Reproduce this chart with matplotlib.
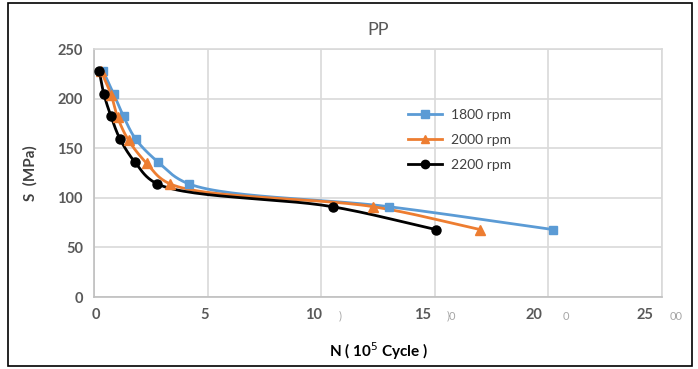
import numpy as np
import matplotlib.pyplot as plt
import matplotlib.transforms as mtransforms
from matplotlib.lines import Line2D
from matplotlib.patches import Rectangle

# data (N in 10^5 cycles, S in MPa)
n_1800 = [0.4, 0.86, 1.3, 1.84, 2.82, 4.18, 13.0, 20.2]
s_1800 = [228, 205, 182, 159, 136, 114, 91, 68]
n_2000 = [0.3, 0.75, 1.04, 1.52, 2.31, 3.35, 12.3, 17.0]
s_2000 = [228, 204, 181, 158, 135, 114, 91, 68]
n_2200 = [0.23, 0.43, 0.75, 1.15, 1.8, 2.79, 10.5, 15.05]
s_2200 = [228, 205, 182, 159, 136, 114, 91, 68]
labels = ["1800 rpm", "2000 rpm", "2200 rpm"]
colors = ["#5B9BD5", "#ED7D31", "#000000"]
markers = ["s", "^", "o"]

plt.rcParams['font.family'] = ['Lato', 'DejaVu Sans']


def smooth(x, y, ax, steps=30, alpha=0.5):
    # centripetal Catmull-Rom through the points, in display units
    pts = ax.transData.transform(np.column_stack([x, y]))
    p = np.vstack([2 * pts[0] - pts[1], pts, 2 * pts[-1] - pts[-2]])
    out = []
    for i in range(1, len(p) - 2):
        p0, p1, p2, p3 = p[i - 1], p[i], p[i + 1], p[i + 2]
        t0 = 0.0
        t1 = t0 + np.linalg.norm(p1 - p0) ** alpha
        t2 = t1 + np.linalg.norm(p2 - p1) ** alpha
        t3 = t2 + np.linalg.norm(p3 - p2) ** alpha
        t = np.linspace(t1, t2, steps)[:, None]
        a1 = (t1 - t) / (t1 - t0) * p0 + (t - t0) / (t1 - t0) * p1
        a2 = (t2 - t) / (t2 - t1) * p1 + (t - t1) / (t2 - t1) * p2
        a3 = (t3 - t) / (t3 - t2) * p2 + (t - t2) / (t3 - t2) * p3
        b1 = (t2 - t) / (t2 - t0) * a1 + (t - t0) / (t2 - t0) * a2
        b2 = (t3 - t) / (t3 - t1) * a2 + (t - t1) / (t3 - t1) * a3
        out.append((t2 - t) / (t2 - t1) * b1 + (t - t1) / (t2 - t1) * b2)
    out = np.vstack(out)
    return ax.transData.inverted().transform(out).T


fig = plt.figure(figsize=(6.98, 3.69), dpi=100)
ax = fig.add_axes([0.1347, 0.1951, 0.8137, 0.6721])
ax.set_xlim(0, 25)
ax.set_ylim(0, 250)
ax.set_xticks([0, 5, 10, 15, 20, 25])
ax.set_yticks([0, 50, 100, 150, 200, 250])
ax.grid(True, color="#D9D9D9", linewidth=1.2)
ax.set_axisbelow(True)
for sp in ax.spines.values():
    sp.set_color("#D9D9D9")
    sp.set_linewidth(1.2)
ax.spines['left'].set_color("#BFBFBF")
ax.spines['bottom'].set_color("#BFBFBF")
ax.tick_params(length=0, labelsize=10.5, labelcolor="#595959", pad=8)
for t in ax.get_xticklabels() + ax.get_yticklabels():
    t.set_fontweight("bold")

# x tick labels sit a bit left of their gridlines in the original
for t, dx in zip(ax.get_xticklabels(), [2, -3, -8, -12, -14, -17]):
    t.set_transform(t.get_transform() + mtransforms.ScaledTranslation(dx / 100, 0, fig.dpi_scale_trans))

fig.canvas.draw()
series = [(n_1800, s_1800), (n_2000, s_2000), (n_2200, s_2200)]
handles = []
for (x, y), c, m, lab in zip(series, colors, markers, labels):
    sx, sy = smooth(x, y, ax)
    ax.plot(sx, sy, color=c, linewidth=2, zorder=3)
    ax.plot(x, y, linestyle="none", marker=m, color=c, markersize=6.5 if m != "s" else 5.5, zorder=4)
    handles.append(Line2D([], [], color=c, linewidth=2, marker=m, markersize=6 if m != "s" else 5.5, label=lab))

leg = ax.legend(handles=handles, loc="upper left", bbox_to_anchor=(0.53, 0.81), frameon=False,
                fontsize=10, labelcolor="#404040", handlelength=2.5, labelspacing=0.95, handletextpad=0.6)

ax.set_title("PP", fontsize=13, color="#595959", pad=10)
ax.set_ylabel("S  (MPa)", fontsize=11, fontweight="bold", color="#404040", labelpad=14)
ax.set_xlabel("N ( 10$^{5}$ Cycle )", fontsize=11, fontweight="bold", color="#000000", labelpad=13)

# stray label fragments visible in the original chart
for xp, s in [(340, ")"), (451, ")0"), (566, "0"), (676, "00")]:
    fig.text(xp / 698, 1 - 316 / 369, s, fontsize=8, color="#A6A6A6", ha="center", va="center")

fig.patches.append(Rectangle((8 / 698, 3 / 369), 684 / 698, 363 / 369, transform=fig.transFigure,
                             fill=False, edgecolor="black", linewidth=1.2))

fig.savefig("out.png", dpi=100)
